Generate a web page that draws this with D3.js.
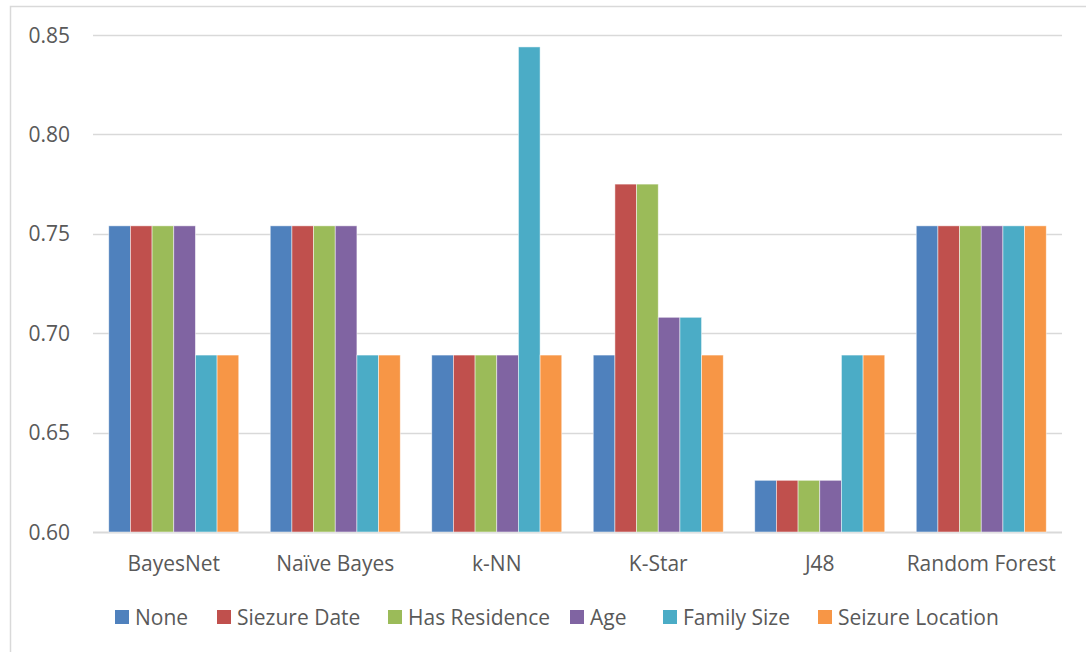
<!DOCTYPE html>
<html>
<head>
<meta charset="utf-8">
<script src="https://cdn.jsdelivr.net/npm/d3@7"></script>
<style>
  body { margin: 0; background: #fff; }
  svg { display: block; font-family: "Open Sans", "Noto Sans", sans-serif; }
</style>
</head>
<body>
<svg id="chart" width="1086" height="652"></svg>
<script>
const categories = ["BayesNet", "Naïve Bayes", "k-NN", "K-Star", "J48", "Random Forest"];
const seriesNames = ["None", "Siezure Date", "Has Residence", "Age", "Family Size", "Seizure Location"];
const seriesColors = ["#4f81bd", "#c0504d", "#9bbb59", "#8064a2", "#4bacc6", "#f79646"];

// one array per series, values per category
const noneVals      = [0.754, 0.754, 0.689, 0.689, 0.626, 0.754];
const dateVals      = [0.754, 0.754, 0.689, 0.775, 0.626, 0.754];
const residenceVals = [0.754, 0.754, 0.689, 0.775, 0.626, 0.754];
const ageVals       = [0.754, 0.754, 0.689, 0.708, 0.626, 0.754];
const familyVals    = [0.689, 0.689, 0.844, 0.708, 0.689, 0.754];
const locationVals  = [0.689, 0.689, 0.689, 0.689, 0.689, 0.754];
const yTicks = [0.60, 0.65, 0.70, 0.75, 0.80, 0.85];

const allSeries = [noneVals, dateVals, residenceVals, ageVals, familyVals, locationVals];

const svg = d3.select("#chart");

// chart frame
svg.append("rect")
    .attr("x", 10.5).attr("y", 6.5)
    .attr("width", 1090).attr("height", 660)
    .style("fill", "#fff")
    .style("stroke", "#d9d9d9")
    .style("stroke-width", 1.5);

const plotLeft = 93, plotRight = 1062, plotTop = 35, plotBottom = 532;

const x = d3.scaleBand()
    .domain(categories)
    .range([plotLeft, plotRight])
    .paddingInner(0.195)
    .paddingOuter(0.0975);

const xInner = d3.scaleBand()
    .domain(seriesNames)
    .range([0, x.bandwidth()]);

const y = d3.scaleLinear()
    .domain([0.60, 0.85])
    .range([plotBottom, plotTop]);

// gridlines
svg.append("g")
    .selectAll("line")
    .data(yTicks)
    .enter()
    .append("line")
    .attr("x1", plotLeft).attr("x2", plotRight)
    .attr("y1", d => Math.round(y(d)) + 0.5)
    .attr("y2", d => Math.round(y(d)) + 0.5)
    .style("stroke", "#d9d9d9")
    .style("stroke-width", d => d === 0.60 ? 2 : 1.5);

// y tick labels
svg.append("g")
    .selectAll("text")
    .data(yTicks)
    .enter()
    .append("text")
    .attr("x", 70)
    .attr("y", d => y(d))
    .attr("dy", "0.36em")
    .attr("text-anchor", "end")
    .style("font-size", "21px")
    .style("fill", "#595959")
    .text(d => d3.format(".2f")(d));

// bars
const groups = svg.append("g")
    .selectAll("g")
    .data(categories)
    .enter()
    .append("g")
    .attr("transform", d => "translate(" + x(d) + ",0)");

groups.selectAll("rect")
    .data((c, ci) => seriesNames.map((s, si) => ({ series: s, color: seriesColors[si], value: allSeries[si][ci] })))
    .enter()
    .append("rect")
    .attr("x", d => xInner(d.series))
    .attr("y", d => y(d.value))
    .attr("width", xInner.bandwidth())
    .attr("height", d => y(0.60) - y(d.value))
    .style("fill", d => d.color)
    .style("stroke", "#ffffff")
    .style("stroke-opacity", 0.6)
    .style("stroke-width", 0.8);

// category labels
svg.append("g")
    .selectAll("text")
    .data(categories)
    .enter()
    .append("text")
    .attr("x", d => x(d) + x.bandwidth() / 2)
    .attr("y", 563)
    .attr("dy", "0.36em")
    .attr("text-anchor", "middle")
    .style("font-size", "21px")
    .style("fill", "#595959")
    .text(d => d);

// legend
const legendX = [115, 217, 388, 570, 663, 818];
const legend = svg.append("g")
    .selectAll("g")
    .data(seriesNames)
    .enter()
    .append("g")
    .attr("transform", (d, i) => "translate(" + legendX[i] + ",610)");

legend.append("rect")
    .attr("width", 14).attr("height", 14)
    .style("fill", (d, i) => seriesColors[i]);

legend.append("text")
    .attr("x", 20)
    .attr("y", 7)
    .attr("dy", "0.36em")
    .style("font-size", "21px")
    .style("fill", "#595959")
    .text(d => d);
</script>
</body>
</html>
